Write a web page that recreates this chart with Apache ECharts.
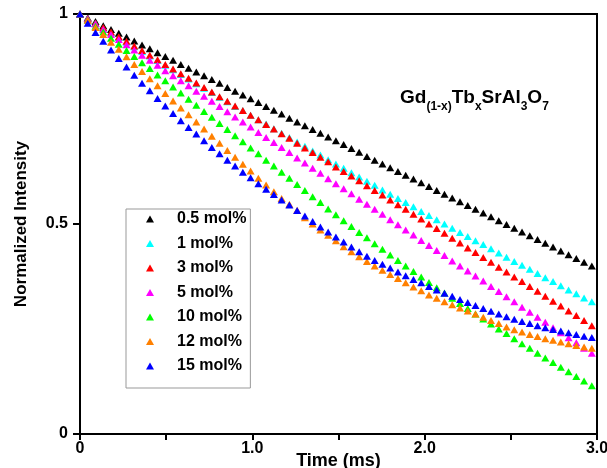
<!DOCTYPE html>
<html>
<head>
<meta charset="utf-8">
<script src="https://cdn.jsdelivr.net/npm/echarts@6/dist/echarts.min.js"></script>
<style>
  html, body { margin: 0; padding: 0; background: #fff; }
  #chart { width: 607px; height: 468px; }
</style>
</head>
<body>
<div id="chart"></div>
<script>
// sample times (ms)
const timeMs = [0, 0.045, 0.09, 0.135, 0.18, 0.225, 0.27, 0.315, 0.36, 0.405, 0.45, 0.495, 0.54, 0.585, 0.63, 0.675,
  0.72, 0.765, 0.81, 0.855, 0.9, 0.945, 0.99, 1.035, 1.08, 1.125, 1.17, 1.215, 1.26, 1.305, 1.35, 1.395, 1.44, 1.485,
  1.53, 1.575, 1.62, 1.665, 1.71, 1.755, 1.8, 1.845, 1.89, 1.935, 1.98, 2.025, 2.07, 2.115, 2.16, 2.205, 2.25, 2.295,
  2.34, 2.385, 2.43, 2.475, 2.52, 2.565, 2.61, 2.655, 2.7, 2.745, 2.79, 2.835, 2.88, 2.925, 2.97]

const names = ['0.5 mol%', '1 mol%', '3 mol%', '5 mol%', '10 mol%', '12 mol%', '15 mol%']
const colors = ['#000000', '#00ffff', '#ff0000', '#ff00ff', '#00ff00', '#ff8000', '#0000ff']

const tb05 = [1.000, 0.991, 0.982, 0.972, 0.963, 0.954, 0.945, 0.936, 0.926, 0.917, 0.908, 0.899, 0.890, 0.880, 0.871, 0.862,
  0.853, 0.844, 0.835, 0.825, 0.816, 0.807, 0.798, 0.789, 0.780, 0.771, 0.762, 0.752, 0.743, 0.734, 0.725, 0.716, 0.707, 0.698,
  0.689, 0.680, 0.671, 0.661, 0.652, 0.643, 0.634, 0.625, 0.616, 0.607, 0.598, 0.589, 0.580, 0.571, 0.562, 0.553, 0.544, 0.535,
  0.526, 0.517, 0.508, 0.499, 0.490, 0.481, 0.472, 0.463, 0.454, 0.445, 0.436, 0.427, 0.418, 0.409, 0.400]
const tb1 = [1.000, 0.989, 0.978, 0.966, 0.955, 0.944, 0.933, 0.922, 0.911, 0.900, 0.889, 0.878, 0.867, 0.856, 0.845, 0.834,
  0.823, 0.813, 0.802, 0.791, 0.780, 0.770, 0.759, 0.748, 0.738, 0.727, 0.716, 0.706, 0.695, 0.685, 0.674, 0.664, 0.653, 0.643,
  0.633, 0.622, 0.612, 0.602, 0.592, 0.581, 0.571, 0.561, 0.551, 0.541, 0.530, 0.520, 0.510, 0.500, 0.490, 0.480, 0.470, 0.460,
  0.451, 0.441, 0.431, 0.421, 0.411, 0.402, 0.392, 0.382, 0.372, 0.363, 0.353, 0.343, 0.334, 0.324, 0.315]
const tb3 = [1.000, 0.989, 0.978, 0.968, 0.957, 0.946, 0.935, 0.924, 0.913, 0.902, 0.891, 0.880, 0.869, 0.858, 0.847, 0.836,
  0.825, 0.814, 0.803, 0.792, 0.781, 0.770, 0.759, 0.748, 0.737, 0.726, 0.715, 0.704, 0.692, 0.681, 0.670, 0.659, 0.648, 0.636,
  0.625, 0.614, 0.603, 0.591, 0.580, 0.569, 0.557, 0.546, 0.535, 0.523, 0.512, 0.500, 0.489, 0.478, 0.466, 0.455, 0.443, 0.432,
  0.420, 0.409, 0.397, 0.386, 0.374, 0.363, 0.351, 0.340, 0.328, 0.316, 0.305, 0.293, 0.282, 0.270, 0.258]
const tb5 = [1.000, 0.988, 0.976, 0.963, 0.951, 0.939, 0.927, 0.914, 0.902, 0.890, 0.878, 0.865, 0.853, 0.841, 0.829, 0.816,
  0.804, 0.792, 0.780, 0.767, 0.755, 0.743, 0.731, 0.718, 0.706, 0.694, 0.682, 0.670, 0.657, 0.645, 0.633, 0.621, 0.608, 0.596,
  0.584, 0.572, 0.559, 0.547, 0.535, 0.523, 0.510, 0.498, 0.486, 0.474, 0.461, 0.449, 0.437, 0.425, 0.412, 0.400, 0.388, 0.376,
  0.364, 0.351, 0.339, 0.327, 0.315, 0.302, 0.290, 0.278, 0.266, 0.253, 0.241, 0.229, 0.217, 0.204, 0.192]
const tb10 = [1.000, 0.986, 0.971, 0.957, 0.942, 0.928, 0.913, 0.899, 0.884, 0.870, 0.855, 0.841, 0.826, 0.812, 0.797, 0.783,
  0.768, 0.754, 0.739, 0.725, 0.710, 0.696, 0.681, 0.667, 0.652, 0.638, 0.623, 0.609, 0.594, 0.580, 0.565, 0.551, 0.536, 0.522,
  0.508, 0.494, 0.480, 0.467, 0.453, 0.440, 0.426, 0.413, 0.400, 0.387, 0.374, 0.361, 0.348, 0.336, 0.323, 0.311, 0.299, 0.286,
  0.274, 0.262, 0.250, 0.239, 0.227, 0.215, 0.204, 0.192, 0.181, 0.170, 0.159, 0.148, 0.137, 0.126, 0.115]
const tb12 = [1.000, 0.985, 0.968, 0.951, 0.933, 0.916, 0.898, 0.880, 0.863, 0.846, 0.829, 0.811, 0.793, 0.776, 0.760, 0.743,
  0.726, 0.709, 0.692, 0.675, 0.659, 0.642, 0.626, 0.609, 0.593, 0.577, 0.561, 0.547, 0.533, 0.515, 0.500, 0.486, 0.473, 0.460,
  0.446, 0.434, 0.422, 0.411, 0.400, 0.390, 0.380, 0.370, 0.360, 0.350, 0.341, 0.331, 0.323, 0.315, 0.308, 0.300, 0.293, 0.286,
  0.278, 0.270, 0.263, 0.255, 0.248, 0.243, 0.237, 0.232, 0.227, 0.223, 0.219, 0.215, 0.211, 0.207, 0.204]
const tb15 = [1.000, 0.978, 0.956, 0.935, 0.914, 0.894, 0.874, 0.854, 0.835, 0.817, 0.799, 0.781, 0.763, 0.746, 0.730, 0.714,
  0.698, 0.682, 0.667, 0.652, 0.638, 0.623, 0.610, 0.596, 0.583, 0.570, 0.557, 0.545, 0.532, 0.519, 0.506, 0.493, 0.481, 0.469,
  0.457, 0.445, 0.434, 0.423, 0.413, 0.404, 0.395, 0.386, 0.377, 0.368, 0.360, 0.351, 0.343, 0.335, 0.328, 0.320, 0.313, 0.306,
  0.299, 0.292, 0.286, 0.279, 0.273, 0.268, 0.263, 0.258, 0.253, 0.249, 0.245, 0.241, 0.237, 0.233, 0.230]

const values = [tb05, tb1, tb3, tb5, tb10, tb12, tb15]

const font = 'Liberation Sans, Arial, sans-serif'
const chart = echarts.init(document.getElementById('chart'), null, { renderer: 'canvas' })

const series = values.map((vals, k) => ({
  name: names[k],
  type: 'scatter',
  symbol: 'triangle',
  symbolSize: [8, 7],
  itemStyle: { color: colors[k], opacity: 1 },
  data: vals.map((v, i) => [timeMs[i], v])
}))

chart.setOption({
  animation: false,
  textStyle: { fontFamily: font },
  grid: {
    left: 80, top: 14, right: 10, bottom: 34,
    containLabel: false, outerBoundsMode: 'none',
    show: true, borderColor: '#000', borderWidth: 2
  },
  xAxis: {
    type: 'value', min: 0, max: 3, interval: 0.5,
    name: 'Time (ms)', nameLocation: 'middle', nameGap: 18, nameMoveOverlap: false,
    nameTextStyle: { fontSize: 18, fontWeight: 'bold', color: '#000', fontFamily: font, verticalAlign: 'top' },
    axisLine: { lineStyle: { color: '#000', width: 2 } },
    axisTick: { length: 6, lineStyle: { color: '#000', width: 2 } },
    splitLine: { show: false },
    axisLabel: {
      margin: 7, fontSize: 16, fontWeight: 'bold', color: '#000', fontFamily: font,
      formatter: v => v === 0 ? '0' : (Math.abs(v % 1) < 1e-9 ? v.toFixed(1) : '')
    }
  },
  yAxis: {
    type: 'value', min: 0, max: 1, interval: 0.5,
    name: 'Normalized Intensity', nameLocation: 'middle', nameGap: 50, nameMoveOverlap: false,
    nameTextStyle: { fontSize: 17, fontWeight: 'bold', color: '#000', fontFamily: font },
    axisLine: { lineStyle: { color: '#000', width: 2 } },
    axisTick: { length: 7, lineStyle: { color: '#000', width: 2 } },
    splitLine: { show: false },
    axisLabel: {
      margin: 12, fontSize: 16, fontWeight: 'bold', color: '#000', fontFamily: font,
      formatter: v => v === 0.5 ? '0.5' : String(v)
    }
  },
  legend: {
    data: names,
    orient: 'vertical',
    left: 126, top: 209,
    padding: [2, 4, 14, 20],
    itemGap: 8.5,
    itemWidth: 8, itemHeight: 7,
    icon: 'triangle',
    selectedMode: false,
    backgroundColor: '#fff',
    borderColor: '#999', borderWidth: 1,
    textStyle: { fontSize: 16, fontWeight: 'bold', color: '#000', fontFamily: font, lineHeight: 16, padding: [0, 0, 0, 18] }
  },
  graphic: [{
    type: 'text', left: 400, top: 88, z: 10,
    style: {
      text: '{b|Gd}{s|(1-x)}{b|Tb}{s|x}{b|SrAl}{s|3}{b|O}{s|7}',
      fill: '#000',
      rich: {
        b: { fontSize: 19, fontWeight: 'bold', fontFamily: font, padding: [0, 0, 6, 0], verticalAlign: 'bottom' },
        s: { fontSize: 12, fontWeight: 'bold', fontFamily: font, verticalAlign: 'bottom' }
      }
    }
  }],
  series
})
</script>
</body>
</html>
